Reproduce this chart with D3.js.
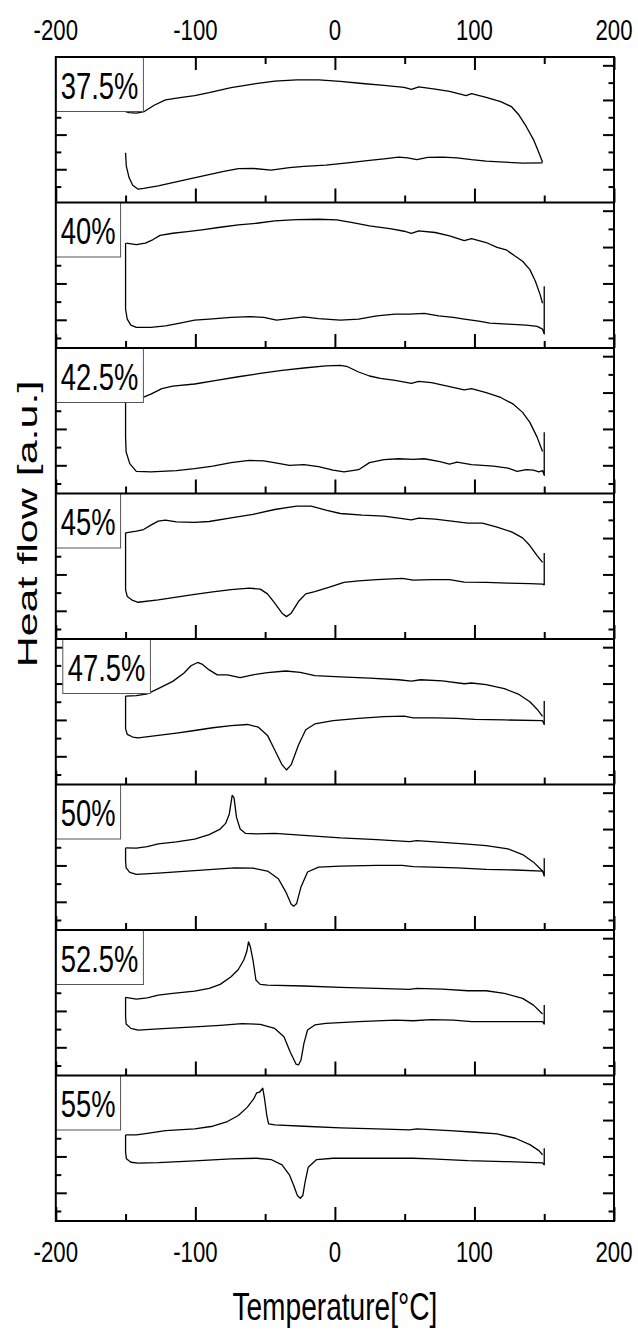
<!DOCTYPE html>
<html>
<head>
<meta charset="utf-8">
<script src="https://cdn.jsdelivr.net/npm/d3@7"></script>
<style>
  html, body { margin: 0; padding: 0; background: #fff; }
  svg { display: block; }
  text { font-family: "Liberation Sans", Arial, sans-serif; fill: #000; }
</style>
</head>
<body>
<svg id="chart" width="638" height="1333"></svg>
<script>
// DSC heat-flow loops, one panel per concentration.
// Each curve is a list of [temperature °C, heat flow a.u.] points.
const concentrations = ["37.5%", "40%", "42.5%", "45%", "47.5%", "50%", "52.5%", "55%"];
const xTickLabels = [-200, -100, 0, 100, 200];
const xAxisTitle = "Temperature[°C]";
const yAxisTitle = "Heat flow [a.u.]";

const upper375 = [[-150,4.33],[-147.5,4.27],[-142.3,4.24],[-136.6,4.33],[-129.2,4.71],[-121.4,5.0],[-111,5.13],[-100.5,5.25],[-90.1,5.42],[-74.4,5.71],[-58.7,5.92],[-43.1,6.09],[-27.4,6.16],[-11.7,6.16],[3.9,6.07],[19.6,5.95],[35.2,5.84],[49.6,5.73],[54.8,5.61],[60.1,5.76],[71.8,5.63],[82.2,5.5],[94,5.25],[97.9,5.36],[108.4,5.15],[118.8,4.9],[126.6,4.61],[131.9,4.13],[137.1,3.47],[142.3,2.71],[146.2,1.95],[148.8,1.41]];
const lower375 = [[-150,1.95],[-149.5,1.2],[-147.5,0.52],[-144.9,0.08],[-141,-0.15],[-137.1,-0.11],[-126.6,0.04],[-116.2,0.23],[-105.7,0.42],[-92.7,0.65],[-79.6,0.88],[-69.2,1.03],[-58.7,1.05],[-45.7,0.95],[-32.6,1.09],[-22.2,1.16],[-6.5,1.24],[9.1,1.37],[24.8,1.51],[35.2,1.6],[45.7,1.7],[52.2,1.66],[58.7,1.56],[66.6,1.68],[77,1.7],[87.5,1.66],[97.9,1.55],[108.4,1.47],[121.4,1.41],[134.5,1.35],[148.8,1.37]];

const upper400 = [[-149.5,5.22],[-142.3,5.13],[-135.8,5.22],[-130.6,5.4],[-125.3,5.64],[-116.2,5.76],[-105.7,5.85],[-95.3,5.95],[-82.2,6.09],[-69.2,6.22],[-56.1,6.31],[-43.1,6.44],[-27.4,6.51],[-11.7,6.53],[1.3,6.49],[11.7,6.36],[24.8,6.16],[40.5,6.0],[49.6,5.87],[54.8,5.75],[60.1,5.89],[71.8,5.8],[82.2,5.62],[92.7,5.36],[97.9,5.47],[108.4,5.25],[116.2,4.98],[122.7,4.85],[129.3,4.49],[134.5,4.22],[139.7,3.76],[143.6,3.13],[147,2.4],[148.8,1.91]];
const lower400 = [[-150,5.22],[-150,1.58],[-148.8,1.04],[-146.2,0.71],[-142.3,0.58],[-131.9,0.58],[-121.4,0.67],[-111,0.82],[-100.5,0.98],[-90.1,1.04],[-74.4,1.13],[-61.4,1.18],[-50.9,1.13],[-41.8,0.98],[-32.6,1.07],[-22.2,1.16],[-11.7,1.07],[3.9,0.98],[17,1.04],[30,1.22],[43.1,1.31],[53.5,1.31],[64,1.35],[74.4,1.22],[84.9,1.13],[92.7,1.04],[103.1,0.93],[111,0.82],[124,0.76],[137.1,0.71],[144.9,0.64],[148.8,0.49],[150,0.22],[150,2.85]];

const upper425 = [[-150,4.55],[-139.7,4.67],[-131.9,4.91],[-124,5.22],[-116.2,5.35],[-100.5,5.47],[-84.9,5.67],[-69.2,5.87],[-53.5,6.05],[-37.9,6.22],[-22.2,6.35],[-6.5,6.47],[3.9,6.49],[9.1,6.42],[17,6.13],[24.8,5.91],[32.6,5.78],[43.1,5.67],[54.8,5.51],[60.1,5.62],[69.2,5.55],[82.2,5.33],[92.7,5.15],[97.9,5.22],[108.4,5.0],[118.8,4.73],[127.9,4.36],[134.5,3.91],[139.7,3.36],[144.9,2.55],[148.8,1.76]];
const lower425 = [[-150,4.55],[-150,2.55],[-149.6,1.73],[-147,1.09],[-142.3,0.67],[-131.9,0.64],[-113.6,0.71],[-100.5,0.82],[-87.5,0.96],[-74.4,1.15],[-61.4,1.27],[-50.9,1.24],[-40.5,1.11],[-32.6,1.0],[-22.2,1.04],[-11.7,0.93],[-1.3,0.73],[6.5,0.64],[17,0.76],[24.8,1.15],[35.2,1.31],[45.7,1.36],[56.1,1.33],[64,1.36],[74.4,1.22],[82.2,1.07],[87.5,1.18],[97.9,1.04],[113.6,0.95],[124,0.85],[130.6,0.67],[137.1,0.76],[142.3,0.73],[146.2,0.64],[148.8,0.71],[150,0.45],[150,2.82]];

const upper450 = [[-150,5.29],[-142.3,5.38],[-137.1,5.47],[-131.9,5.71],[-126.6,5.93],[-121.4,5.99],[-113.6,5.89],[-100.5,5.86],[-90.1,5.91],[-74.4,6.11],[-58.7,6.3],[-43.1,6.57],[-27.4,6.76],[-17,6.76],[-6.5,6.54],[3.9,6.35],[19.6,6.26],[35.2,6.21],[54.8,6.0],[60.1,6.1],[71.8,6.04],[82.2,5.95],[95.3,5.82],[105.7,5.82],[116.2,5.6],[126.6,5.34],[134.5,5.01],[139.7,4.59],[144.9,4.03],[148.8,3.66]];
const lower450 = [[-150,5.29],[-150,2.15],[-148.8,1.79],[-144.9,1.57],[-141,1.47],[-126.6,1.6],[-113.6,1.75],[-100.5,1.9],[-87.5,2.04],[-74.4,2.17],[-61.4,2.25],[-53.5,2.19],[-48.3,1.93],[-43.1,1.42],[-37.9,0.87],[-34.7,0.68],[-31.3,0.87],[-26.1,1.51],[-20.9,1.93],[-14.4,2.06],[-3.9,2.3],[6.5,2.56],[17,2.65],[30,2.71],[48.3,2.78],[56.1,2.69],[69.2,2.71],[82.2,2.71],[92.7,2.58],[108.4,2.56],[124,2.52],[139.7,2.49],[148.8,2.47],[150,2.43],[150,4.18]];

const upper475 = [[-150,4.31],[-142.3,4.34],[-134.5,4.43],[-126.6,4.72],[-116.2,5.12],[-108.3,5.57],[-103.1,5.98],[-98.4,6.16],[-95.3,6.07],[-90.1,5.75],[-84.3,5.48],[-77,5.48],[-67.9,5.33],[-58.7,5.48],[-48.3,5.6],[-35.2,5.69],[-24.8,5.62],[-14.4,5.44],[3.9,5.37],[24.8,5.3],[45.7,5.21],[54.8,5.13],[61.4,5.21],[77,5.15],[92.7,4.99],[97.9,5.03],[108.4,4.94],[121.4,4.72],[131.9,4.4],[139.7,4.0],[144.9,3.59],[148.8,3.2]];
const lower475 = [[-150,4.31],[-150,2.51],[-148.8,2.21],[-144.9,2.06],[-141,2.01],[-126.6,2.15],[-113.6,2.28],[-100.5,2.42],[-87.5,2.57],[-74.4,2.69],[-62.7,2.75],[-54.8,2.6],[-48.3,2.15],[-43.1,1.35],[-37.9,0.54],[-34.7,0.25],[-31.3,0.54],[-26.1,1.62],[-20.9,2.46],[-14.4,2.78],[-1.3,2.96],[17,3.09],[35.2,3.18],[49.6,3.21],[56.1,3.11],[71.8,3.11],[87.5,3.09],[100.5,3.03],[121.4,3.0],[148.8,2.96],[150,2.75],[150,4.04]];

const upper500 = [[-150,3.96],[-142.3,3.95],[-134.5,4.04],[-126.6,4.18],[-113.6,4.29],[-100.5,4.45],[-90.1,4.69],[-82.2,5.0],[-78.3,5.31],[-75.7,5.82],[-73.6,6.85],[-72.3,6.73],[-70.5,5.64],[-67.9,5.0],[-64,4.76],[-56.1,4.73],[-43.1,4.76],[-22.2,4.65],[3.9,4.51],[30,4.42],[53.5,4.31],[58.7,4.36],[77,4.27],[92.7,4.18],[108.4,4.09],[124,3.91],[134.5,3.6],[142.3,3.18],[148.8,2.69]];
const lower500 = [[-150,3.96],[-150,3.24],[-149.6,2.87],[-147,2.62],[-142.3,2.51],[-126.6,2.58],[-105.7,2.69],[-87.5,2.78],[-71.8,2.87],[-58.7,2.85],[-48.3,2.69],[-40.5,2.27],[-35.2,1.55],[-31.3,0.87],[-29.5,0.76],[-27.4,0.91],[-24.3,1.82],[-19.6,2.64],[-11.7,2.91],[3.9,2.96],[30,3.0],[48.3,3.0],[56.1,2.93],[69.2,2.91],[87.5,2.87],[108.4,2.78],[129.3,2.75],[148.8,2.69],[150,2.42],[150,3.4]];

const upper525 = [[-150,3.75],[-142.3,3.65],[-134.5,3.72],[-126.6,3.87],[-116.2,3.97],[-100.5,4.09],[-90.1,4.24],[-82.2,4.46],[-74.4,4.88],[-69.2,5.28],[-65.3,5.8],[-63.2,6.25],[-61.9,6.8],[-60.6,6.53],[-58.7,5.8],[-56.6,4.7],[-53.5,4.46],[-48.3,4.42],[-22.2,4.37],[3.9,4.29],[30,4.24],[53.5,4.18],[58.7,4.24],[77,4.2],[95.3,4.11],[108.4,4.11],[121.4,3.97],[134.5,3.69],[142.3,3.32],[148.8,2.83]];
const lower525 = [[-150,3.75],[-150,2.68],[-149.6,2.28],[-146.2,2.04],[-141,1.95],[-126.6,2.01],[-100.5,2.12],[-82.2,2.21],[-66.6,2.3],[-53.5,2.26],[-43.1,2.04],[-36.5,1.58],[-32.1,0.76],[-27.9,0.08],[-26.1,0.03],[-24.3,0.3],[-22.2,1.22],[-19.6,1.95],[-14.4,2.23],[-6.5,2.32],[17,2.41],[43.1,2.5],[56.1,2.46],[69.2,2.52],[84.9,2.5],[97.9,2.41],[121.4,2.41],[148.8,2.41],[150,2.28],[150,3.32]];

const upper550 = [[-150,4.18],[-142.3,4.18],[-134.5,4.27],[-121.4,4.42],[-100.5,4.51],[-87.5,4.66],[-77,4.92],[-69.2,5.25],[-62.7,5.71],[-58.2,6.16],[-56.1,6.49],[-54,6.53],[-51.7,6.75],[-50.4,6.16],[-48.8,5.25],[-47.5,4.79],[-43.1,4.74],[-22.2,4.66],[3.9,4.57],[30,4.51],[53.5,4.46],[58.7,4.51],[82.2,4.42],[100.5,4.33],[116.2,4.24],[129.3,4.0],[139.7,3.65],[146.2,3.32],[148.8,3.09]];
const lower550 = [[-150,4.18],[-150,3.23],[-149.4,2.87],[-146.2,2.68],[-141,2.63],[-126.6,2.66],[-100.5,2.76],[-74.4,2.87],[-56.1,2.9],[-45.7,2.83],[-37.9,2.54],[-32.6,1.99],[-29.5,1.4],[-26.9,0.85],[-24.8,0.7],[-23,0.85],[-21.4,1.58],[-19.1,2.41],[-13.1,2.83],[-1.3,2.9],[30,2.9],[56.1,2.9],[69.2,2.87],[95.3,2.77],[121.4,2.72],[148.8,2.65],[150,2.54],[150,3.45]];

const upperCurves = [upper375, upper400, upper425, upper450, upper475, upper500, upper525, upper550];
const lowerCurves = [lower375, lower400, lower425, lower450, lower475, lower500, lower525, lower550];

// ---- layout ----
const plotLeft = 55.8, plotRight = 614, plotTop = 57, panelH = 145.5;
const squeeze = 0.74;             // horizontal condensing of all lettering
const labelShift = [0, 0, 0, 0, 7, 0, 0, 0];
const yDomains = [[-0.92, 7.48]].concat(d3.range(7).map(() => [-0.55, 7.45]));

const svg = d3.select("#chart");
const x = d3.scaleLinear().domain([-200, 200]).range([plotLeft, plotRight]);
const majorX = d3.range(-200, 201, 100);
const minorX = d3.range(-150, 201, 100);

function styleTicks(sel) {
  sel.select(".domain").remove();
  sel.selectAll("line").attr("stroke", "#000").attr("stroke-width", 2);
}

concentrations.forEach((name, k) => {
  const top = plotTop + k * panelH;
  const y = d3.scaleLinear().domain(yDomains[k]).range([top + panelH, top]);
  const g = svg.append("g");

  // heating / cooling traces
  const path = d3.line().x(d => x(d[0])).y(d => y(d[1]));
  [upperCurves[k], lowerCurves[k]].forEach(c => {
    g.append("path").datum(c).attr("d", path)
      .attr("fill", "none").attr("stroke", "#000").attr("stroke-width", 1.3)
      .attr("stroke-linejoin", "round");
  });

  // x ticks pointing up from each panel's bottom edge
  [[majorX, 14], [minorX, 7]].forEach(([vals, len]) => {
    g.append("g").attr("transform", `translate(0,${top + panelH})`)
      .call(d3.axisBottom(x).tickValues(vals).tickSize(-len).tickSizeOuter(0).tickFormat(""))
      .call(styleTicks);
  });
  if (k === 0) {
    [[majorX, 13], [minorX, 7]].forEach(([vals, len]) => {
      g.append("g").attr("transform", `translate(0,${top})`)
        .call(d3.axisTop(x).tickValues(vals).tickSize(-len).tickSizeOuter(0).tickFormat(""))
        .call(styleTicks);
    });
  }

  // y ticks on both sides, pointing inward
  const yMajor = [1, 3, 5, 7], yMinor = [0, 2, 4, 6];
  [[d3.axisLeft, plotLeft], [d3.axisRight, plotRight]].forEach(([axf, px]) => {
    [[yMajor, 11], [yMinor, 5.5]].forEach(([vals, len]) => {
      g.append("g").attr("transform", `translate(${px},0)`)
        .call(axf(y).tickValues(vals).tickSize(-len).tickSizeOuter(0).tickFormat(""))
        .call(styleTicks);
    });
  });

  // concentration label in a white box
  const bx = plotLeft + labelShift[k], pad = 5, boxH = 54.5;
  const lab = g.append("g");
  const rect = lab.append("rect").attr("x", bx).attr("y", top).attr("height", boxH)
    .attr("fill", "#fff").attr("stroke", "#555").attr("stroke-width", 1);
  const t = lab.append("text").text(name).attr("font-size", 37)
    .attr("transform", `translate(${bx + pad},${top + 41.5}) scale(${squeeze},1)`);
  const tw = t.node().getComputedTextLength() * squeeze;
  rect.attr("width", tw + 2 * pad);
});

// frame and panel separators
const frame = svg.append("g").attr("stroke", "#000").attr("stroke-width", 2).attr("fill", "none");
frame.append("rect").attr("x", plotLeft).attr("y", plotTop)
  .attr("width", plotRight - plotLeft).attr("height", panelH * concentrations.length);
d3.range(1, concentrations.length).forEach(k => {
  frame.append("line").attr("x1", plotLeft).attr("x2", plotRight)
    .attr("y1", plotTop + k * panelH).attr("y2", plotTop + k * panelH);
});

// tick labels above and below
const plotBottom = plotTop + panelH * concentrations.length;
[40, plotBottom + 40.5].forEach(by => {
  svg.append("g").selectAll("text").data(xTickLabels).join("text")
    .attr("transform", d => `translate(${x(d)},${by}) scale(${squeeze},1)`)
    .attr("text-anchor", "middle").attr("font-size", 30).text(d => d);
});

// axis titles
svg.append("text").attr("text-anchor", "middle").attr("font-size", 38)
  .attr("transform", `translate(${(plotLeft + plotRight) / 2},${plotBottom + 99}) scale(${squeeze},1)`)
  .text(xAxisTitle);
svg.append("text").attr("text-anchor", "middle").attr("font-size", 43)
  .attr("transform", `translate(36.5,524) scale(0.66,1) rotate(-90)`)
  .text(yAxisTitle);
</script>
</body>
</html>
